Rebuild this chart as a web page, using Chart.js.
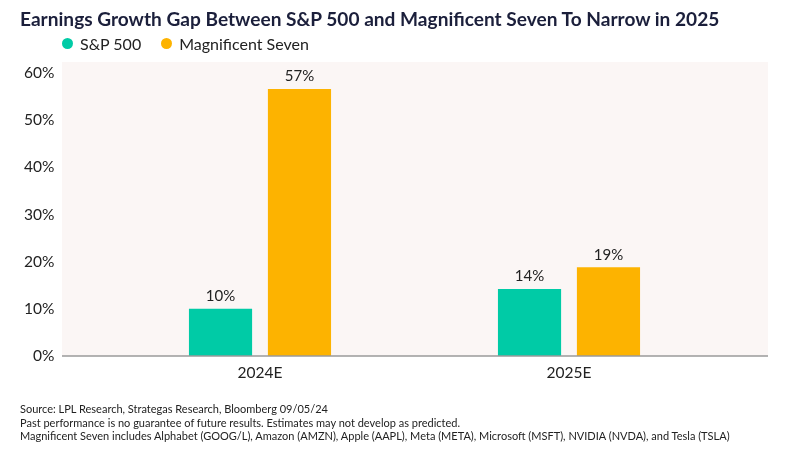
<!DOCTYPE html>
<html><head><meta charset="utf-8">
<script src="https://cdn.jsdelivr.net/npm/chart.js@4"></script>
<style>
html,body{margin:0;padding:0;background:#fff;width:800px;height:449px;overflow:hidden;font-family:Lato,"Open Sans",sans-serif;}
#wrap{position:relative;width:800px;height:449px;}
#c{position:absolute;left:0;top:0;}
#title{position:absolute;left:20px;top:7px;font-weight:700;font-size:19.1px;color:#1b1f3b;white-space:nowrap;}
#legend{position:absolute;left:62px;top:34px;display:flex;font-size:16px;color:#222;}
.item{display:flex;align-items:center;margin-right:20px}
.dot{width:11px;height:11px;border-radius:50%;margin-right:7px}
#notes{position:absolute;left:20px;top:402px;font-size:11px;line-height:13.5px;color:#222;white-space:nowrap;}
</style></head>
<body>
<div id="wrap">
<canvas id="c" width="800" height="449"></canvas>
<div id="title">Earnings Growth Gap Between S&amp;P 500 and Magnificent Seven To Narrow in 2025</div>
<div id="legend"></div>
<div id="notes">
<div>Source: LPL Research, Strategas Research, Bloomberg 09/05/24</div>
<div>Past performance is no guarantee of future results. Estimates may not develop as predicted.</div>
<div>Magnificent Seven includes Alphabet (GOOG/L), Amazon (AMZN), Apple (AAPL), Meta (META), Microsoft (MSFT), NVIDIA (NVDA), and Tesla (TSLA)</div>
</div>
</div>
<script>
const categories = ['2024E', '2025E'];
const seriesNames = ['S&P 500', 'Magnificent Seven'];
const sp500 = [10, 14.2];
const mag7 = [56.6, 18.8];
const yTicks = [0, 10, 20, 30, 40, 50, 60];
const colors = ['#00CBA6', '#FDB300'];

const bgPlugin = {
  id: 'bg',
  beforeDraw(chart) {
    const {ctx, chartArea: a} = chart;
    ctx.save();
    ctx.fillStyle = '#FBF6F5';
    ctx.fillRect(a.left - 43.5, a.top - 11, (a.right + 44.5) - (a.left - 43.5), a.bottom - (a.top - 11));
    ctx.restore();
  },
  afterDatasetsDraw(chart) {
    const {ctx, chartArea: a} = chart;
    ctx.save();
    ctx.strokeStyle = '#9a9a9a';
    ctx.lineWidth = 1.5;
    ctx.beginPath();
    ctx.moveTo(a.left - 43.5, a.bottom);
    ctx.lineTo(a.right + 44.5, a.bottom);
    ctx.stroke();
    ctx.restore();
  }
};
const labelPlugin = {
  id: 'vals',
  afterDatasetsDraw(chart) {
    const ctx = chart.ctx;
    ctx.save();
    ctx.font = '15px Lato, "Open Sans", sans-serif';
    ctx.fillStyle = '#222';
    ctx.textAlign = 'center';
    ctx.textBaseline = 'bottom';
    chart.data.datasets.forEach((ds, i) => {
      chart.getDatasetMeta(i).data.forEach((bar, j) => {
        ctx.fillText(Math.round(ds.data[j]) + '%', bar.x, bar.y - 5);
      });
    });
    ctx.restore();
  }
};

const chart = new Chart(document.getElementById('c'), {
  type: 'bar',
  data: {
    labels: categories,
    datasets: [
      {label: seriesNames[0], data: sp500, backgroundColor: colors[0]},
      {label: seriesNames[1], data: mag7, backgroundColor: colors[1]}
    ]
  },
  options: {
    responsive: false,
    animation: false,
    devicePixelRatio: 1,
    layout: {padding: {top: 73, right: 76.5, bottom: 0, left: 0}},
    categoryPercentage: 0.511,
    barPercentage: 0.8,
    plugins: {legend: {display: false}, title: {display: false}, tooltip: {enabled: false}},
    scales: {
      x: {
        grid: {display: false, drawTicks: false},
        border: {display: false},
        ticks: {font: {size: 15.5, family: 'Lato, "Open Sans", sans-serif'}, color: '#222', padding: 8},
        afterFit(s) { s.height = 93; }
      },
      y: {
        min: 0, max: 60,
        afterBuildTicks(s) { s.ticks = yTicks.map(v => ({value: v})); },
        grid: {display: false, drawTicks: false},
        border: {display: false},
        ticks: {font: {size: 15.5, family: 'Lato, "Open Sans", sans-serif'}, color: '#222', padding: 51, callback: v => v + '%'},
        afterFit(s) { s.width = 105.5; }
      }
    }
  },
  plugins: [bgPlugin, labelPlugin]
});

const leg = document.getElementById('legend');
chart.data.datasets.forEach(ds => {
  const it = document.createElement('div'); it.className = 'item';
  const d = document.createElement('span'); d.className = 'dot'; d.style.background = ds.backgroundColor;
  const t = document.createElement('span'); t.textContent = ds.label;
  it.appendChild(d); it.appendChild(t); leg.appendChild(it);
});
</script>
</body></html>
